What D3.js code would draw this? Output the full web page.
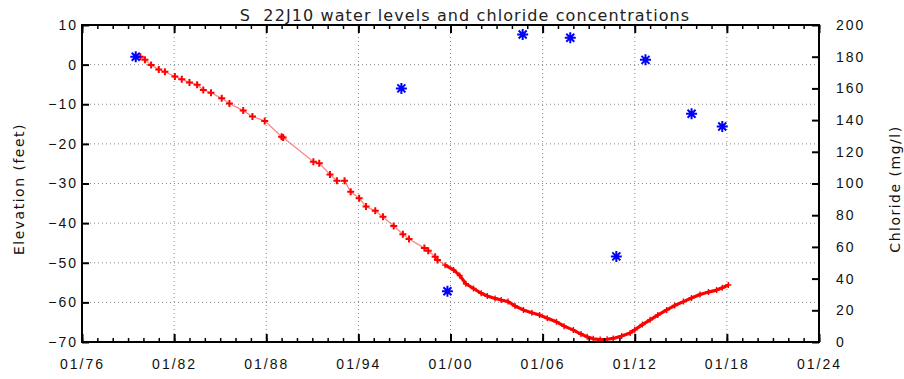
<!DOCTYPE html>
<html>
<head>
<meta charset="utf-8">
<script src="https://cdn.jsdelivr.net/npm/d3@7"></script>
<style>
  body { margin: 0; background: #fff; }
  svg { display: block; font-family: "DejaVu Sans", Verdana, sans-serif; }
</style>
</head>
<body>
<svg id="chart" width="904" height="379"></svg>
<script>
// water level record: decimal year, elevation (feet)
const levelYears = [1979.8, 1980.1, 1980.5, 1981.0, 1981.4, 1982.05, 1982.5, 1983.0, 1983.5, 1983.9,
  1984.4, 1985.1, 1985.6, 1986.5, 1987.1, 1987.9, 1989.0, 1989.1, 1991.07, 1991.45,
  1992.15, 1992.6, 1993.1, 1993.5, 1994.05, 1994.5, 1995.1, 1995.6, 1996.3, 1996.9,
  1997.3, 1998.3, 1998.55, 1999.0, 1999.15, 1999.65, 2000.2, 2000.6, 2001.0, 2001.5,
  2002.0, 2002.4, 2002.9, 2003.3, 2003.75, 2004.2, 2004.75, 2005.3, 2005.8, 2006.3,
  2006.9, 2007.4, 2008.0, 2008.5, 2008.9, 2009.3, 2009.75, 2010.2, 2010.6, 2011.15,
  2011.7, 2012.0, 2012.5, 2013.0, 2013.5, 2014.08, 2014.6, 2015.17, 2015.7, 2016.25,
  2016.8, 2017.33, 2017.7, 2018.1];
const levelValues = [2.0, 1.2, -0.1, -1.2, -1.8, -3.0, -3.7, -4.5, -5.1, -6.4,
  -7.1, -8.5, -9.8, -11.6, -13.1, -14.2, -18.2, -18.4, -24.5, -24.9,
  -27.7, -29.3, -29.3, -32.1, -33.7, -35.8, -36.9, -38.4, -40.7, -42.8,
  -44.0, -46.3, -47.0, -48.5, -49.3, -50.6, -51.8, -53.2, -55.3, -56.5,
  -57.7, -58.4, -59.0, -59.4, -59.8, -60.9, -61.9, -62.6, -63.2, -64.0,
  -64.9, -66.0, -67.0, -68.0, -68.7, -69.2, -69.4, -69.3, -69.1, -68.5,
  -67.7, -66.9, -65.6, -64.4, -63.2, -61.9, -60.8, -59.8, -58.9, -58.0,
  -57.4, -56.9, -56.3, -55.6];

// chloride samples: decimal year, mg/l
const chlorideYears = [1979.5, 1996.8, 1999.8, 2004.7, 2007.8, 2010.8, 2012.7, 2015.7, 2017.7];
const chlorideValues = [180, 160, 32, 194, 192, 54, 178, 144, 136];

const xTicks = [1976, 1982, 1988, 1994, 2000, 2006, 2012, 2018, 2024];
const xMinorTicks = d3.range(1976, 2025, 1);
const leftTicks = [10, 0, -10, -20, -30, -40, -50, -60, -70];
const rightTicks = [0, 20, 40, 60, 80, 100, 120, 140, 160, 180, 200];

// after this the record is continuous (logger), drawn as a heavy line
const continuousFrom = 1999.6;

const pLeft = 82, pRight = 819, pTop = 25, pBottom = 342;
const svg = d3.select('#chart');

const x = d3.scaleLinear().domain([1976, 2024]).range([pLeft, pRight]);
const yL = d3.scaleLinear().domain([-70, 10]).range([pBottom, pTop]);
const yR = d3.scaleLinear().domain([0, 200]).range([pBottom, pTop]);

// dotted grid
svg.append('g')
  .selectAll('line')
  .data(xTicks.slice(1, -1))
  .enter().append('line')
  .attr('x1', d => x(d)).attr('x2', d => x(d))
  .attr('y1', pTop).attr('y2', pBottom)
  .attr('stroke', '#888').attr('stroke-width', 1)
  .attr('stroke-dasharray', '1,3');
svg.append('g')
  .selectAll('line')
  .data(leftTicks.slice(1, -1))
  .enter().append('line')
  .attr('x1', pLeft).attr('x2', pRight)
  .attr('y1', d => yL(d)).attr('y2', d => yL(d))
  .attr('stroke', '#888').attr('stroke-width', 1)
  .attr('stroke-dasharray', '1,3');

// water level line + markers
const pts = levelYears.map((d, i) => [d, levelValues[i]]);
const line = d3.line().x(d => x(d[0])).y(d => yL(d[1]));
svg.append('path')
  .datum(pts.filter(d => d[0] <= continuousFrom + 0.1))
  .attr('d', line)
  .attr('fill', 'none')
  .attr('stroke', '#ff3030')
  .attr('stroke-opacity', 0.6)
  .attr('stroke-width', 1.3);
svg.append('path')
  .datum(pts.filter(d => d[0] >= continuousFrom))
  .attr('d', line)
  .attr('fill', 'none')
  .attr('stroke', '#ff0000')
  .attr('stroke-width', 3.2)
  .attr('stroke-linejoin', 'round');
svg.append('g')
  .selectAll('path')
  .data(pts)
  .enter().append('path')
  .attr('transform', d => `translate(${x(d[0])},${yL(d[1])})`)
  .attr('d', d => d[0] < continuousFrom ? 'M-3.5,0H3.5M0,-3.5V3.5' : 'M-3,0H3M0,-3V3')
  .attr('stroke', '#ff0000')
  .attr('stroke-width', d => d[0] < continuousFrom ? 2 : 1.4);

// chloride asterisks
svg.append('g')
  .selectAll('path')
  .data(chlorideYears.map((d, i) => [d, chlorideValues[i]]))
  .enter().append('path')
  .attr('transform', d => `translate(${x(d[0])},${yR(d[1])})`)
  .attr('d', 'M-5.5,0H5.5M0,-5.5V5.5M-4,-4L4,4M-4,4L4,-4')
  .attr('stroke', '#0000ff')
  .attr('stroke-width', 2);

// frame
svg.append('rect')
  .attr('x', pLeft).attr('y', pTop)
  .attr('width', pRight - pLeft).attr('height', pBottom - pTop)
  .attr('fill', 'none').attr('stroke', '#000').attr('stroke-width', 2);

const tickStyle = g => {
  g.select('.domain').remove();
  g.selectAll('line').attr('stroke', '#000').attr('stroke-width', 2);
  g.selectAll('text')
    .attr('fill', '#111')
    .style('font-size', '14px')
    .style('letter-spacing', '2px');
};
const minorStyle = g => {
  g.select('.domain').remove();
  g.selectAll('line').attr('stroke', '#000').attr('stroke-width', 1.5);
};

const fmt = d => '01/' + String(d % 100).padStart(2, '0');

// bottom axis, major + minor
svg.append('g')
  .attr('transform', `translate(0,${pBottom})`)
  .call(d3.axisBottom(x).tickValues(xMinorTicks).tickSize(-4).tickFormat(''))
  .call(minorStyle);
svg.append('g')
  .attr('transform', `translate(0,${pBottom})`)
  .call(d3.axisBottom(x).tickValues(xTicks).tickSize(-8).tickPadding(17).tickFormat(fmt))
  .call(tickStyle);

// top axis ticks
svg.append('g')
  .attr('transform', `translate(0,${pTop})`)
  .call(d3.axisTop(x).tickValues(xMinorTicks).tickSize(-4).tickFormat(''))
  .call(minorStyle);
svg.append('g')
  .attr('transform', `translate(0,${pTop})`)
  .call(d3.axisTop(x).tickValues(xTicks).tickSize(-8).tickFormat(''))
  .call(tickStyle);

// left axis
svg.append('g')
  .attr('transform', `translate(${pLeft},0)`)
  .call(d3.axisLeft(yL).tickValues(leftTicks).tickSize(-7).tickPadding(4))
  .call(tickStyle);

// right axis
svg.append('g')
  .attr('transform', `translate(${pRight},0)`)
  .call(d3.axisRight(yR).tickValues(rightTicks).tickSize(-7).tickPadding(17))
  .call(tickStyle);

// titles
svg.append('text')
  .attr('x', 465).attr('y', 21)
  .attr('text-anchor', 'middle')
  .style('white-space', 'pre')
  .style('font-size', '16px')
  .style('letter-spacing', '1.1px')
  .attr('fill', '#222')
  .text('S  22J10 water levels and chloride concentrations');

svg.append('text')
  .attr('transform', 'translate(24,189) rotate(-90)')
  .attr('text-anchor', 'middle')
  .style('font-size', '14px')
  .style('letter-spacing', '1.5px')
  .attr('fill', '#111')
  .text('Elevation (feet)');

svg.append('text')
  .attr('transform', 'translate(900,189) rotate(-90)')
  .attr('text-anchor', 'middle')
  .style('font-size', '14px')
  .style('letter-spacing', '1.5px')
  .attr('fill', '#111')
  .text('Chloride (mg/l)');
</script>
</body>
</html>
